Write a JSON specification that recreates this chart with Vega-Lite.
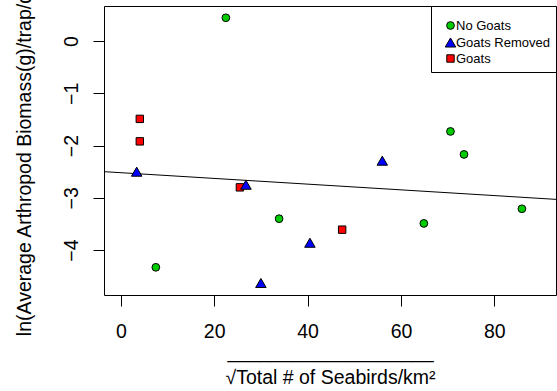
{
  "$schema": "https://vega.github.io/schema/vega-lite/v6.json",
  "width": 452,
  "height": 289,
  "autosize": {"type": "none"},
  "padding": {"left": 104, "top": 6, "right": 1, "bottom": 96},
  "background": "white",
  "config": {
    "font": "Liberation Sans",
    "view": {"stroke": "black", "strokeWidth": 1},
    "axis": {
      "grid": false,
      "domain": false,
      "ticks": true,
      "tickColor": "black",
      "tickSize": 11,
      "tickWidth": 1,
      "labelColor": "black",
      "labelFont": "Liberation Sans",
      "labelFontSize": 19.5,
      "titleColor": "black",
      "titleFont": "Liberation Sans",
      "titleFontSize": 19.5,
      "titleFontWeight": "normal",
      "labelPadding": 16
    }
  },
  "datasets": {
    "points": [
      {"seabirds": 4.07, "biomass": -1.49, "group": "Goats"},
      {"seabirds": 4.07, "biomass": -1.92, "group": "Goats"},
      {"seabirds": 25.5, "biomass": -2.80, "group": "Goats"},
      {"seabirds": 47.4, "biomass": -3.61, "group": "Goats"},
      {"seabirds": 22.5, "biomass": 0.445, "group": "No Goats"},
      {"seabirds": 7.5, "biomass": -4.33, "group": "No Goats"},
      {"seabirds": 70.6, "biomass": -1.73, "group": "No Goats"},
      {"seabirds": 33.9, "biomass": -3.40, "group": "No Goats"},
      {"seabirds": 73.5, "biomass": -2.17, "group": "No Goats"},
      {"seabirds": 64.9, "biomass": -3.49, "group": "No Goats"},
      {"seabirds": 85.9, "biomass": -3.21, "group": "No Goats"},
      {"seabirds": 3.4, "biomass": -2.50, "group": "Goats Removed"},
      {"seabirds": 26.8, "biomass": -2.75, "group": "Goats Removed"},
      {"seabirds": 40.5, "biomass": -3.86, "group": "Goats Removed"},
      {"seabirds": 30.0, "biomass": -4.63, "group": "Goats Removed"},
      {"seabirds": 56.0, "biomass": -2.29, "group": "Goats Removed"}
    ],
    "fit": [
      {"seabirds": -3.6, "biomass": -2.50},
      {"seabirds": 93.2, "biomass": -3.03}
    ]
  },
  "encoding": {
    "x": {
      "field": "seabirds",
      "type": "quantitative",
      "scale": {"domain": [-3.6, 93.2], "nice": false, "zero": false},
      "axis": {
        "values": [0, 20, 40, 60, 80],
        "labelBaseline": "top",
        "titlePadding": 2,
        "titleLineHeight": 26,
        "title": ["___________________", "√Total # of Seabirds/km²"]
      }
    },
    "y": {
      "field": "biomass",
      "type": "quantitative",
      "scale": {"domain": [-4.86, 0.67], "nice": false, "zero": false},
      "axis": {
        "values": [0, -1, -2, -3, -4],
        "labelAngle": -90,
        "labelAlign": "center",
        "labelBaseline": "alphabetic",
        "titlePadding": 27,
        "title": "ln(Average Arthropod Biomass(g)/trap/day)"
      }
    }
  },
  "layer": [
    {
      "data": {"name": "fit"},
      "mark": {"type": "line", "color": "black", "strokeWidth": 1, "clip": true},
      "encoding": {}
    },
    {
      "data": {"name": "points"},
      "mark": {"type": "point", "filled": true, "stroke": "black", "strokeWidth": 1, "opacity": 1},
      "encoding": {
        "color": {
          "field": "group",
          "type": "nominal",
          "scale": {"domain": ["No Goats", "Goats Removed", "Goats"], "range": ["#00CD00", "#0000FF", "#FF0000"]},
          "legend": {
            "title": " ",
            "titleFontSize": 5,
            "titlePadding": 2,
            "orient": "top-right",
            "offset": 0,
            "strokeColor": "black",
            "fillColor": "white",
            "padding": 6,
            "labelFont": "Liberation Sans",
            "labelFontSize": 13,
            "labelColor": "black",
            "symbolSize": 25,
            "symbolStrokeColor": "black",
            "symbolStrokeWidth": 1,
            "rowPadding": 2,
            "labelOffset": -1,
            "symbolOffset": 7
          }
        },
        "shape": {
          "field": "group",
          "type": "nominal",
          "scale": {"domain": ["No Goats", "Goats Removed", "Goats"], "range": ["circle", "triangle-up", "square"]}
        },
        "size": {
          "field": "group",
          "type": "nominal",
          "scale": {"type": "ordinal", "domain": ["No Goats", "Goats Removed", "Goats"], "range": [60, 110, 55]},
          "legend": null
        }
      }
    },
    {
      "mark": {"type": "text", "text": "R", "font": "Liberation Sans", "fontSize": 20, "fontStyle": "italic", "align": "left", "baseline": "alphabetic", "color": "black"},
      "encoding": {"x": {"datum": 35.76}, "y": {"datum": -0.025}}
    },
    {
      "mark": {"type": "text", "text": "2", "font": "Liberation Sans", "fontSize": 13, "align": "left", "baseline": "alphabetic", "dx": 18, "dy": -15.5, "color": "black"},
      "encoding": {"x": {"datum": 35.76}, "y": {"datum": -0.025}}
    },
    {
      "mark": {"type": "text", "text": "= -0.0594", "font": "Liberation Sans", "fontSize": 20, "align": "left", "baseline": "alphabetic", "dx": 27.5, "color": "black"},
      "encoding": {"x": {"datum": 35.76}, "y": {"datum": -0.025}}
    },
    {
      "mark": {"type": "text", "text": "p", "font": "Liberation Sans", "fontSize": 20, "fontStyle": "italic", "align": "left", "baseline": "alphabetic", "color": "black"},
      "encoding": {"x": {"datum": 35.76}, "y": {"datum": -0.396}}
    },
    {
      "mark": {"type": "text", "text": "= 0.7", "font": "Liberation Sans", "fontSize": 20, "align": "left", "baseline": "alphabetic", "dx": 16, "color": "black"},
      "encoding": {"x": {"datum": 35.76}, "y": {"datum": -0.396}}
    }
  ]
}
